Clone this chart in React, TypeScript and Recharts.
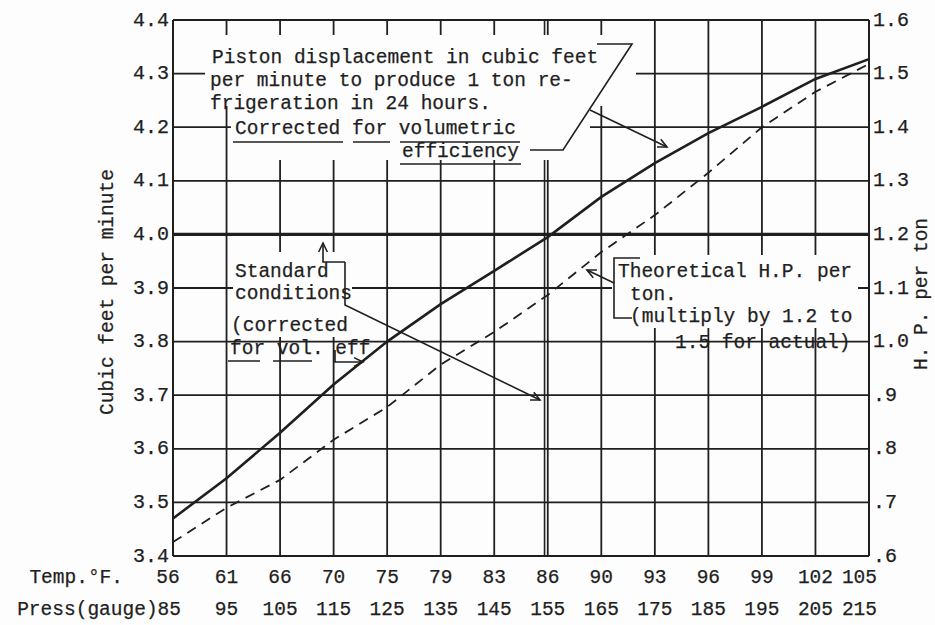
import React from "react";
import { ComposedChart, Line, XAxis, YAxis, CartesianGrid, ReferenceLine } from "recharts";

// x axis: gauge pressure (evenly spaced), with matching temperature row
const pressureGauge = [85, 95, 105, 115, 125, 135, 145, 155, 165, 175, 185, 195, 205, 215];
const tempF = [56, 61, 66, 70, 75, 79, 83, 86, 90, 93, 96, 99, 102, 105];

// solid curve, left axis
const cubicFeetPerMin = [3.47, 3.545, 3.63, 3.72, 3.8, 3.87, 3.932, 3.995, 4.07, 4.133, 4.189, 4.238, 4.29, 4.327];
// dashed curve, right axis
const hpPerTon = [0.626, 0.69, 0.742, 0.817, 0.878, 0.957, 1.018, 1.087, 1.167, 1.236, 1.315, 1.4, 1.466, 1.518];

const cfmTicks = [3.4, 3.5, 3.6, 3.7, 3.8, 3.9, 4.0, 4.1, 4.2, 4.3, 4.4];
const hpTicks = [0.6, 0.7, 0.8, 0.9, 1.0, 1.1, 1.2, 1.3, 1.4, 1.5, 1.6];
const hpTickLabels = [".6", ".7", ".8", ".9", "1.0", "1.1", "1.2", "1.3", "1.4", "1.5", "1.6"];

const data = pressureGauge.map((p, i) => ({
  press: p,
  temp: tempF[i],
  cfm: cubicFeetPerMin[i],
  hp: hpPerTon[i],
}));

const INK = "#1f1f1f";
const BG = "#fdfdfd";
const FONT = "'Liberation Mono', 'Courier New', monospace";
const txt = { fontFamily: FONT, fontSize: 19.5, fill: INK, stroke: INK, strokeWidth: 0.25 };

const LeftTick = ({ x, y, payload }: any) => (
  <text x={x - 4} y={y} textAnchor="end" dominantBaseline="central" {...txt} fontSize={20}>
    {Number(payload.value).toFixed(1)}
  </text>
);

const RightTick = ({ x, y, payload }: any) => {
  const i = hpTicks.findIndex((v) => Math.abs(v - payload.value) < 1e-6);
  return (
    <text x={x + 4} y={y} textAnchor="start" dominantBaseline="central" {...txt} fontSize={20}>
      {hpTickLabels[i]}
    </text>
  );
};

const BottomTick = ({ x, y, payload }: any) => {
  const i = pressureGauge.indexOf(payload.value);
  const last = i === pressureGauge.length - 1;
  if (i === 0) {
    return (
      <g>
        <text x={x - 50} y={y + 27} textAnchor="end" {...txt}>
          Temp.°F.
        </text>
        <text x={x - 5} y={y + 27} textAnchor="middle" {...txt}>
          {tempF[i]}
        </text>
        <text x={x + 8} y={y + 59} textAnchor="end" {...txt}>
          {"Press(gauge)" + payload.value}
        </text>
      </g>
    );
  }
  return (
    <g>
      <text x={last ? x + 8 : x} y={y + 27} textAnchor={last ? "end" : "middle"} {...txt}>
        {tempF[i]}
      </text>
      <text x={last ? x + 8 : x} y={y + 59} textAnchor={last ? "end" : "middle"} {...txt}>
        {payload.value}
      </text>
    </g>
  );
};

const Arrow = ({ pts }: { pts: number[][] }) => {
  const [x1, y1] = pts[pts.length - 2];
  const [x2, y2] = pts[pts.length - 1];
  const a = Math.atan2(y2 - y1, x2 - x1);
  const L = 10;
  const h1 = [x2 - L * Math.cos(a - 0.45), y2 - L * Math.sin(a - 0.45)];
  const h2 = [x2 - L * Math.cos(a + 0.45), y2 - L * Math.sin(a + 0.45)];
  return (
    <g stroke={INK} strokeWidth={1.6} fill="none">
      <polyline points={pts.map((p) => p.join(",")).join(" ")} />
      <polyline points={`${h1.join(",")} ${x2},${y2} ${h2.join(",")}`} />
    </g>
  );
};

const Path = ({ pts }: { pts: number[][] }) => (
  <polyline points={pts.map((p) => p.join(",")).join(" ")} stroke={INK} strokeWidth={1.6} fill="none" />
);

const Underline = ({ x1, x2, y }: { x1: number; x2: number; y: number }) => (
  <line x1={x1} x2={x2} y1={y} y2={y} stroke={INK} strokeWidth={1.5} />
);

const Annotations = () => (
  <svg width={935} height={625} style={{ position: "absolute", left: 0, top: 0, pointerEvents: "none" }}>
    {/* paper behind the typed notes */}
    <rect x={205} y={35} width={431} height={71} fill={BG} />
    <rect x={231} y={105} width={359} height={55} fill={BG} />
    <rect x={233} y={252} width={119} height={85} fill={BG} />
    <rect x={612} y={255} width={246} height={73} fill={BG} />

    {/* top note */}
    <text x={212} y={63} {...txt}>Piston displacement in cubic feet</text>
    <text x={210} y={86} {...txt}>per minute to produce 1 ton re-</text>
    <text x={210} y={109} {...txt}>frigeration in 24 hours.</text>
    <text x={235} y={134} {...txt}>Corrected for volumetric</text>
    <text x={402} y={157} {...txt}>efficiency</text>
    <Underline x1={233} x2={343} y={142} />
    <Underline x1={353} x2={390} y={142} />
    <Underline x1={400} x2={520} y={142} />
    <Underline x1={400} x2={521} y={164} />
    <Path pts={[[530, 150], [563, 150], [632, 44], [597, 44]]} />
    <Arrow pts={[[590, 110], [667, 147]]} />

    {/* standard conditions note */}
    <text x={235} y={277} {...txt}>Standard</text>
    <text x={235} y={299} {...txt}>conditions</text>
    <text x={231} y={331} {...txt}>(corrected</text>
    <text x={230} y={354} {...txt}>for vol. eff</text>
    <Underline x1={228} x2={260} y={361} />
    <Underline x1={273} x2={312} y={361} />
    <Arrow pts={[[345, 262], [323, 262], [323, 243]]} />
    <Arrow pts={[[345, 262], [345, 305], [540, 400]]} />
    <Arrow pts={[[335, 350], [335, 362], [363, 362]]} />

    {/* theoretical H.P. note */}
    <text x={618} y={277} {...txt}>Theoretical H.P. per</text>
    <text x={630} y={300} {...txt}>ton.</text>
    <text x={630} y={322} {...txt}>(multiply by 1.2 to</text>
    <text x={675} y={348} {...txt}>1.5 for actual)</text>
    <Path pts={[[640, 258], [614, 258], [614, 318], [632, 318]]} />
    <Arrow pts={[[614, 283], [587, 270]]} />

    {/* axis titles */}
    <text x={108} y={292} transform="rotate(-90 108 292)" textAnchor="middle" dominantBaseline="central" {...txt}>
      Cubic feet per minute
    </text>
    <text x={922} y={294} transform="rotate(-90 922 294)" textAnchor="middle" dominantBaseline="central" {...txt}>
      H. P. per ton
    </text>
  </svg>
);

export default function App() {
  return (
    <div style={{ position: "absolute", left: 0, top: 0, width: 935, height: 625, background: BG }}>
      <ComposedChart width={935} height={625} data={data} margin={{ top: 20, right: 0, bottom: 0, left: 0 }}>
        <CartesianGrid stroke={INK} strokeWidth={1.8} />
        <XAxis
          dataKey="press"
          type="number"
          domain={[85, 215]}
          ticks={pressureGauge}
          interval={0}
          height={69}
          tickSize={0}
          tickMargin={0}
          tickLine={false}
          axisLine={{ stroke: INK, strokeWidth: 2 }}
          tick={<BottomTick />}
        />
        <YAxis
          domain={[3.4, 4.4]}
          ticks={cfmTicks}
          width={173}
          tickSize={0}
          tickMargin={0}
          tickLine={false}
          axisLine={{ stroke: INK, strokeWidth: 2 }}
          tick={<LeftTick />}
        />
        <YAxis
          yAxisId="hp"
          orientation="right"
          domain={[0.6, 1.6]}
          ticks={hpTicks}
          width={66}
          tickSize={0}
          tickMargin={0}
          tickLine={false}
          axisLine={{ stroke: INK, strokeWidth: 2 }}
          tick={<RightTick />}
        />
        <ReferenceLine y={4.0} stroke={INK} strokeWidth={3.4} />
        <ReferenceLine x={154.4} stroke={INK} strokeWidth={1.6} />
        <Line
          dataKey="cfm"
          type="linear"
          stroke={INK}
          strokeWidth={2.6}
          dot={false}
          isAnimationActive={false}
        />
        <Line
          dataKey="hp"
          yAxisId="hp"
          type="linear"
          stroke={INK}
          strokeWidth={1.8}
          strokeDasharray="10 7"
          dot={false}
          isAnimationActive={false}
        />
      </ComposedChart>
      <Annotations />
    </div>
  );
}
